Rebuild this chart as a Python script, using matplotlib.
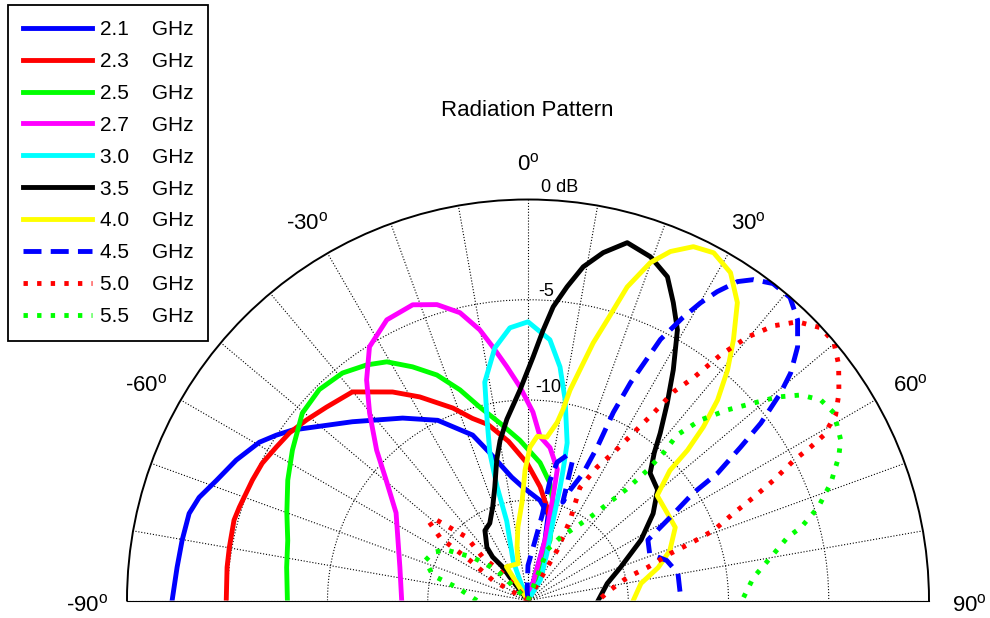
import numpy as np
import matplotlib
matplotlib.use('Agg')
import matplotlib.pyplot as plt
from matplotlib.transforms import offset_copy

plt.rcParams['font.family'] = ['Liberation Sans', 'DejaVu Sans']
plt.rcParams['mathtext.fontset'] = 'custom'
plt.rcParams['mathtext.rm'] = 'Liberation Sans'
plt.rcParams['mathtext.it'] = 'Liberation Sans:italic'

# pattern: angle in degrees (0 = broadside), level in dB, floor at -20 dB
ang_21 = [-90, -84.6, -80.1, -75.6, -72.6, -68.9, -64.3, -59.5, -56.7, -54.1, -44.5, -34.5, -26.6, -18.5, -14.5, -7.5, -2.5, 6.8, 13.2, 15.8, 16, 18]
db_21 = [-2.25, -2.42, -2.49, -2.55, -2.81, -3.35, -3.85, -4.45, -4.98, -5.5, -7.5, -8.96, -9.95, -11.3, -12.4, -13.8, -14.35, -14.97, -15.6, -16.9, -18.7, -20]

ang_23 = [-90, -83.7, -79.9, -74.7, -72.1, -66.4, -62.7, -58.6, -54.9, -50.8, -46.2, -40.1, -33.0, -28.0, -21.3, -17, -12.8, -7.0, -0.4, 6.1, 11.5, 15.4, 18, 20]
db_23 = [-4.95, -4.9, -4.87, -4.8, -4.87, -5.0, -5.08, -5.3, -5.46, -5.75, -6.07, -6.4, -7.6, -8.5, -9.7, -10.5, -11.0, -12.0, -13.15, -14.3, -15.25, -15.85, -17.5, -20]

ang_25 = [-90, -82.2, -76, -70, -63.4, -57.45, -50.3, -44.7, -39.2, -34.4, -30.6, -26.3, -22.0, -17.9, -14.0, -9.0, -2.9, 5.0, 10.6, 14.5, 20.1, 22]
db_25 = [-8.0, -7.85, -7.65, -7.2, -6.6, -6.06, -5.37, -5.2, -5.36, -5.76, -6.17, -7.0, -7.87, -8.96, -10.06, -11.04, -12.0, -13.1, -14.05, -15.0, -16.8, -20]

ang_27 = [-90, -75.5, -56.4, -49.6, -45.2, -40.2, -36.2, -32.0, -26.7, -21.3, -17.1, -13.3, -10.1, -7.9, -5.15, -2.15, 1.5, 4.2, 8.2, 12.6, 13.6, 15.8, 18]
db_27 = [-13.7, -13.4, -12.1, -10.7, -9.36, -7.76, -6.37, -5.08, -4.33, -4.17, -4.56, -5.25, -6.29, -7.23, -8.3, -9.34, -10.6, -11.8, -12.3, -13.3, -14.7, -16.9, -20]

ang_30 = [-24, -21.8, -20.6, -15.0, -15.2, -14.5, -12.8, -11.2, -7.5, -3.8, 0, 4.8, 7.8, 10.5, 13.95, 15.1, 15.8, 17.4, 22.0, 31, 35]
db_30 = [-20, -18.9, -17.9, -15.9, -14.1, -12.4, -10.8, -8.9, -7.3, -6.37, -6.1, -6.95, -8.24, -9.83, -11.9, -13.3, -14.1, -15.8, -17.5, -18.8, -20]

ang_35 = [-45, -38, -37.1, -39.1, -37.7, -31.6, -26.3, -20.6, -16.3, -12.5, -9.9, -6.65, -2.2, 1.2, 3.2, 4.9, 7.1, 9.4, 12.2, 15.5, 19.6, 23.3, 26.0, 28.9, 32.2, 35.2, 38.3, 40.5, 43.8, 49.5, 55.2, 61.8, 70.3, 77.9, 90]
db_35 = [-20, -18.5, -17.9, -17.2, -16.65, -15.9, -15.7, -15.0, -14.1, -12.8, -11.9, -10.9, -9.5, -7.85, -6.5, -5.3, -4.23, -3.13, -2.25, -1.48, -1.8, -2.42, -3.47, -4.58, -6.4, -7.95, -9.36, -10.3, -11.2, -11.5, -12.4, -13.6, -15.1, -15.96, -16.5]

ang_40 = [-35, -32.5, -15.1, -11.7, -7.8, -3.5, -1.3, 0.75, 3.2, 6.6, 9.3, 10.4, 11.3, 12.7, 14.2, 15.8, 17.55, 19.9, 22.2, 25.05, 28.1, 31.7, 35.1, 38.25, 40.9, 43.4, 45.3, 46.7, 47.5, 50.9, 58.0, 63.6, 70.6, 75.8, 81.4, 90]
db_40 = [-20, -18.0, -18.1, -17.3, -16.3, -15.1, -13.5, -12.35, -11.8, -11.8, -11.0, -10.3, -9.3, -8.2, -6.75, -5.45, -3.6, -2.08, -1.2, -0.52, -0.34, -0.78, -1.84, -3.45, -4.8, -6.24, -7.7, -9.07, -10.4, -11.7, -11.8, -11.8, -12.5, -13.3, -14.3, -14.75]

ang_45 = [-8, -5, 0, 6.7, 9.4, 10.4, 11.9, 15.05, 17.7, 19.5, 20.9, 23.4, 24.3, 24.4, 25.2, 26.9, 28.7, 30.1, 31.5, 33.3, 35.1, 37.7, 40.85, 43.85, 46.75, 49.1, 50.6, 52.7, 54.2, 56.1, 57.0, 59.7, 63.2, 69, 73.9, 79.7, 87.4, 90]
db_45 = [-20, -19.5, -18.25, -17.0, -15.7, -13.9, -12.95, -12.5, -12.76, -14.8, -14.1, -13.1, -11.6, -9.7, -8.0, -5.4, -3.9, -2.84, -1.93, -0.97, -0.44, -0.02, -0.02, -0.59, -1.54, -2.67, -3.7, -5.4, -6.93, -8.6, -10.2, -11.8, -13.3, -13.5, -12.8, -12.4, -12.4, -12.4]

ang_50 = [-65, -60.3, -55.4, -54.8, -54.4, -51.5, -48.7, -46.9, -44.1, -46.3, -42.8, -40, 15, 30.1, 27.7, 24.7, 27.4, 30.0, 32.2, 33.8, 34.9, 36.6, 38.1, 39.8, 41.8, 44.05, 47.0, 49.8, 52.8, 56.3, 58.9, 60.8, 61.5, 62.2, 63.9, 65.4, 67.0, 69.3, 70.6, 71.7, 74.5, 76.9, 83.0, 90]
db_50 = [-20, -18.0, -16.5, -15.4, -14.6, -13.7, -13.9, -14.7, -15.6, -16.9, -18.2, -20, -20, -17.1, -15.5, -13.8, -12.5, -11.5, -10.1, -8.75, -7.3, -6.17, -4.44, -2.9, -1.62, -0.66, -0.05, -0.03, -0.55, -1.36, -2.08, -3.1, -3.96, -5.0, -6.36, -7.6, -8.86, -10.1, -11.4, -12.5, -13.8, -14.9, -15.9, -16.5]

ang_55 = [-90, -79.6, -75.3, -68.8, -63, -58.3, -52, -45.9, -40, 15, 20.8, 26.9, 36.8, 41.5, 42.5, 42.5, 42.0, 43.7, 46.3, 48.8, 50.8, 53.0, 55.6, 58.5, 62.85, 65.2, 68.8, 72.2, 75.0, 76.3, 79.9, 84.2, 89.2, 90]
db_55 = [-17.45, -16.4, -15.1, -14.5, -14.7, -15.2, -16.5, -17.8, -20, -20, -17.3, -16.5, -14.8, -12.6, -11.2, -9.9, -8.9, -7.55, -6.24, -5.05, -3.94, -2.97, -2.3, -2.1, -2.47, -2.93, -3.8, -4.8, -5.9, -6.67, -7.7, -8.7, -9.25, -9.25]

labels = ['2.1', '2.3', '2.5', '2.7', '3.0', '3.5', '4.0', '4.5', '5.0', '5.5']
angles = [ang_21, ang_23, ang_25, ang_27, ang_30, ang_35, ang_40, ang_45, ang_50, ang_55]
levels = [db_21, db_23, db_25, db_27, db_30, db_35, db_40, db_45, db_50, db_55]

colors = ['#0000ff', '#ff0000', '#00ff00', '#ff00ff', '#00ffff', '#000000', '#ffff00',
          '#0000ff', '#ff0000', '#00ff00']
dash = (0, (3.7, 1.9))
dot = (0, (0.9, 1.9))
styles = ['-'] * 7 + [dash, dot, dot]

fig = plt.figure(figsize=(9.9, 6.18), dpi=100)
# square box so the half disc keeps full width: centre at (528, 600) px, radius 401 px
ax = fig.add_axes([127 / 990, (618 - 801) / 618, 802 / 990, 802 / 618], projection='polar')
ax.set_theta_zero_location('N')
ax.set_theta_direction(-1)
ax.set_thetamin(-90)
ax.set_thetamax(90)
ax.set_rlim(-20, 0)

for a, d, c, ls, lab in zip(angles, levels, colors, styles, labels):
    ax.plot(np.deg2rad(a), np.clip(d, -20, 0), color=c, ls=ls, lw=3.5,
            dash_capstyle='butt', solid_joinstyle='round', label=lab + '    GHz')

ax.set_thetagrids(np.arange(-90, 91, 10), labels=[''] * 19)
ax.set_rgrids([-15, -10, -5], labels=['', '', ''])
ax.grid(True, color='black', ls=':', lw=0.8)
ax.spines['polar'].set_color('black')
ax.spines['polar'].set_linewidth(1.4)
ax.spines['start'].set_visible(False)
ax.spines['end'].set_visible(False)

lower = offset_copy(ax.transData, fig=fig, y=-5, units='dots')
for t in range(-90, 91, 30):
    ax.text(np.deg2rad(t), 2.0, '%d$^{\\mathrm{o}}$' % t, ha='center', va='center',
            fontsize=16, clip_on=False, transform=lower)

ax.text(np.deg2rad(4.4), 0.65, '0 dB', ha='center', va='center', fontsize=13, clip_on=False)
ax.text(np.deg2rad(3.3), -4.57, '-5', ha='center', va='center', fontsize=13)
ax.text(np.deg2rad(5.4), -9.35, '-10', ha='center', va='center', fontsize=13)

fig.text(527 / 990, 1 - 110 / 618, 'Radiation Pattern', ha='center', va='center', fontsize=16)

leg = fig.legend(loc='upper left', bbox_to_anchor=(8 / 990, 1 - 5 / 618), fontsize=15,
                 handlelength=3.3, handletextpad=0.38, labelspacing=0.62, borderpad=0.72,
                 borderaxespad=0, fancybox=False, framealpha=1)
leg.get_frame().set_edgecolor('black')
leg.get_frame().set_linewidth(1.3)

fig.savefig('out.png', dpi=100)
